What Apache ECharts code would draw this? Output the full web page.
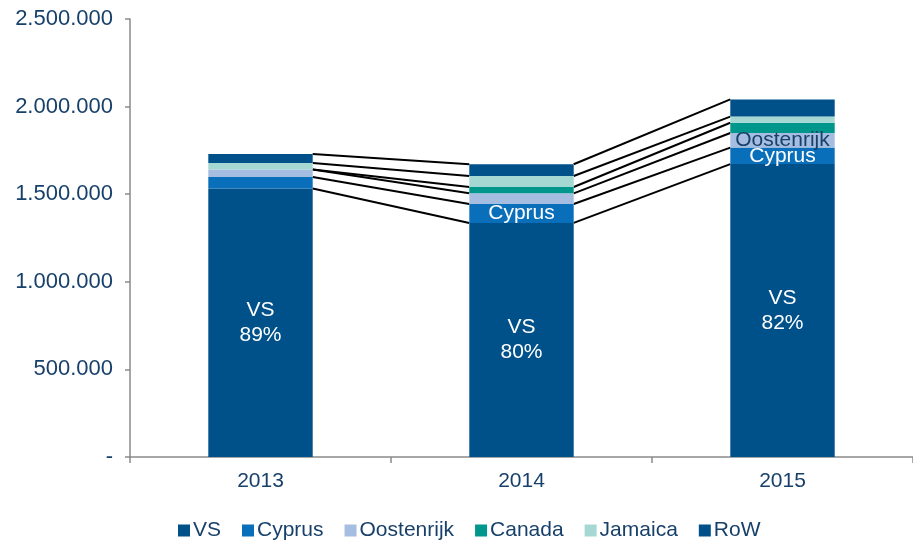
<!DOCTYPE html>
<html>
<head>
<meta charset="utf-8">
<script src="https://cdn.jsdelivr.net/npm/echarts@6/dist/echarts.min.js"></script>
<style>
  html, body { margin: 0; padding: 0; background: #fff; }
  #main { width: 913px; height: 542px; }
</style>
</head>
<body>
<div id="main"></div>
<script>
// jaren
var years = ['2013', '2014', '2015'];
// waarden per land (van onder naar boven gestapeld)
var vs         = [1532000, 1336000, 1672000];
var cyprus     = [66000, 108000, 94000];
var oostenrijk = [43000, 61000, 83000];
var canada     = [0, 36000, 59000];
var jamaica    = [37000, 63000, 35000];
var row        = [51000, 67000, 98000];
var yTicks = [0, 500000, 1000000, 1500000, 2000000, 2500000];

var names  = ['VS', 'Cyprus', 'Oostenrijk', 'Canada', 'Jamaica', 'RoW'];
var colors = ['#00508a', '#0a6fba', '#a5bde0', '#00968c', '#a6d8d3', '#00508a'];
var rows   = [vs, cyprus, oostenrijk, canada, jamaica, row];

var textColor = '#17406a';
var font = 'Liberation Sans, Arial, sans-serif';

// totalen en cumulatieve toppen
var totals = years.map(function (y, i) {
  return rows.reduce(function (s, r) { return s + r[i]; }, 0);
});
var cum = [];
rows.forEach(function (r, k) {
  cum.push(years.map(function (y, i) {
    var s = 0;
    for (var j = 0; j <= k; j++) s += rows[j][i];
    return s;
  }));
});

function fmt(v) {
  if (v === 0) return '-';
  return String(v).replace(/\B(?=(\d{3})+(?!\d))/g, '.');
}

// labels per segment
function labelFor(k, i) {
  if (k === 0) {
    return { show: true, position: 'inside', color: '#fff', fontSize: 21, lineHeight: 25,
      fontFamily: font,
      formatter: 'VS\n' + Math.round(vs[i] / totals[i] * 100) + '%' };
  }
  if (k === 1 && i > 0) {
    return { show: true, position: 'inside', color: '#fff', fontSize: 21, fontFamily: font,
      formatter: 'Cyprus' };
  }
  if (k === 2 && i === 2) {
    return { show: true, position: 'inside', color: '#17406a', fontSize: 21, fontFamily: font,
      formatter: 'Oostenrijk' };
  }
  return { show: false };
}

var series = rows.map(function (r, k) {
  return {
    name: names[k],
    type: 'bar',
    stack: 'totaal',
    barWidth: '40%',
    itemStyle: { color: colors[k] },
    data: r.map(function (v, i) { return { value: v, label: labelFor(k, i) }; })
  };
});

// verbindingslijnen tussen de toppen van elke reeks
var lineData = [];
cum.forEach(function (c) {
  for (var i = 0; i < years.length - 1; i++) lineData.push([i, c[i], c[i + 1]]);
});
series.push({
  type: 'custom',
  silent: true,
  encode: { x: 0, y: 1 },
  data: lineData,
  renderItem: function (params, api) {
    var p0 = api.coord([api.value(0), api.value(1)]);
    var p1 = api.coord([api.value(0) + 1, api.value(2)]);
    var bw = api.size([1, 0])[0] * 0.4;
    return {
      type: 'line',
      shape: { x1: p0[0] + bw / 2, y1: p0[1], x2: p1[0] - bw / 2, y2: p1[1] },
      style: { stroke: '#000', lineWidth: 2 }
    };
  }
});

var myChart = echarts.init(document.getElementById('main'));
myChart.setOption({
  animation: false,
  grid: { left: 130, right: -6, top: 19, bottom: 85 },
  legend: {
    data: names,
    bottom: 1,
    padding: 0,
    left: 178,
    icon: 'rect',
    itemWidth: 12,
    itemHeight: 12,
    itemGap: 21,
    textStyle: { color: textColor, fontSize: 21, fontFamily: font, padding: [0, 0, 0, -2] }
  },
  xAxis: {
    type: 'category',
    data: years,
    axisLine: { lineStyle: { color: '#8a8a8a', width: 1.5 } },
    axisTick: { show: true, length: 6, lineStyle: { color: '#8a8a8a', width: 1.5 } },
    axisLabel: { color: textColor, fontSize: 21, fontFamily: font, margin: 14 }
  },
  yAxis: {
    type: 'value',
    min: yTicks[0],
    max: yTicks[yTicks.length - 1],
    interval: yTicks[1] - yTicks[0],
    splitLine: { show: false },
    axisLine: { show: true, lineStyle: { color: '#8a8a8a', width: 1.5 } },
    axisTick: { show: true, length: 5, lineStyle: { color: '#8a8a8a', width: 1.5 } },
    axisLabel: { color: textColor, fontSize: 22, fontFamily: font, margin: 17, formatter: fmt }
  },
  series: series
});
</script>
</body>
</html>
